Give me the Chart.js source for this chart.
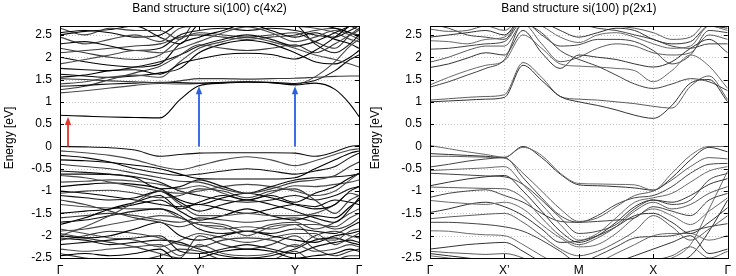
<!DOCTYPE html>
<html lang="en">
<head>
    <meta charset="UTF-8">
    <title>Band structure si(100)</title>
    <style>
        body {
            margin: 0;
            background: #fff;
        }
        #wrap {
            position: relative;
            width: 736px;
            height: 276px;
        }
        canvas {
            position: absolute;
            top: 0;
        }
        #left { left: 0; }
        #right { left: 368px; }
    </style>
</head>
<body>

<div id="wrap">
    <canvas id="left" width="368" height="276"></canvas>
    <canvas id="right" width="368" height="276"></canvas>
</div>

<script src="https://cdn.jsdelivr.net/npm/chart.js"></script>

<script>
    // energy axis (eV)
    const energyTicks = [-2.5, -2, -1.5, -1, -0.5, 0, 0.5, 1, 1.5, 2, 2.5];

    // c(4x2): k path Γ - X - Y' - Y - Γ
    const kC4x2 = [0, 0.25, 0.5, 0.75, 1.0, 1.2, 1.39, 1.63, 1.87, 2.11, 2.35, 2.55, 2.75, 2.9, 2.99];
    const kC4x2Ticks = [0, 1.0, 1.39, 2.35, 2.99];
    const kC4x2Labels = ['Γ', 'X', 'Y’', 'Y', 'Γ'];

    const c4x2Conduction = [
        [0.70, 0.68, 0.66, 0.65, 0.64, 1.05, 1.36, 1.42, 1.44, 1.43, 1.38, 1.42, 1.28, 0.95, 0.67],
        [1.52, 1.50, 1.47, 1.45, 1.43, 1.47, 1.52, 1.52, 1.51, 1.52, 1.53, 1.55, 1.57, 1.58, 1.58],
        [1.35, 1.37, 1.40, 1.42, 1.44, 1.43, 1.42, 1.44, 1.45, 1.44, 1.41, 1.48, 1.70, 1.95, 2.05],
        [1.20, 1.25, 1.31, 1.37, 1.41, 1.40, 1.41, 1.43, 1.45, 1.43, 1.39, 1.56, 1.90, 2.25, 2.40],
        [1.55, 1.60, 1.70, 1.72, 1.62, 1.85, 1.96, 2.06, 2.09, 2.06, 1.96, 2.15, 2.45, 2.70, 2.80],
        [1.27, 1.35, 1.50, 1.65, 1.80, 2.05, 2.28, 2.20, 2.15, 2.20, 2.28, 2.10, 2.30, 2.50, 2.60],
        [1.75, 1.72, 1.70, 1.78, 1.90, 2.05, 2.25, 2.40, 2.50, 2.40, 2.25, 2.35, 2.55, 2.70, 2.80],
        [1.85, 1.95, 2.05, 2.15, 2.10, 2.20, 2.35, 2.55, 2.68, 2.55, 2.35, 2.45, 2.60, 2.50, 2.40],
        [2.00, 1.90, 1.82, 1.78, 1.85, 2.30, 2.45, 2.60, 2.75, 2.60, 2.45, 2.55, 2.40, 2.30, 2.20],
        [2.20, 2.10, 2.00, 1.95, 2.05, 2.40, 2.55, 2.50, 2.45, 2.50, 2.55, 2.35, 2.20, 2.50, 2.65],
        [2.30, 2.35, 2.25, 2.15, 2.20, 2.50, 2.60, 2.65, 2.60, 2.65, 2.60, 2.50, 2.45, 2.60, 2.70],
        [2.45, 2.30, 2.40, 2.50, 2.35, 2.65, 2.70, 2.80, 2.80, 2.80, 2.70, 2.65, 2.55, 2.40, 2.35],
        [2.55, 2.60, 2.55, 2.45, 2.50, 2.75, 2.80, 2.90, 2.90, 2.90, 2.80, 2.75, 2.65, 2.55, 2.50],
        [2.65, 2.50, 2.65, 2.60, 2.60, 2.40, 2.90, 2.90, 2.90, 2.90, 2.90, 2.80, 2.75, 2.70, 2.60],
        [2.50, 2.58, 2.62, 2.70, 2.45, 2.30, 2.75, 2.85, 2.90, 2.85, 2.75, 2.30, 2.10, 2.30, 2.50],
        [1.40, 1.45, 1.55, 1.60, 1.55, 1.90, 2.20, 2.35, 2.45, 2.35, 2.20, 2.05, 1.95, 1.85, 1.78],
        [1.62, 1.58, 1.55, 1.58, 1.65, 1.75, 2.10, 2.30, 2.38, 2.30, 2.10, 1.90, 1.85, 2.00, 2.15],
        [2.10, 2.15, 2.20, 2.25, 2.30, 2.45, 2.50, 2.45, 2.40, 2.45, 2.50, 2.60, 2.65, 2.55, 2.45]
    ];

    const c4x2Valence = [
        [0.00, -0.01, -0.03, -0.08, -0.22, -0.18, -0.15, -0.14, -0.14, -0.14, -0.15, -0.22, -0.12, 0.00, 0.02],
        [-0.10, -0.14, -0.20, -0.30, -0.45, -0.52, -0.43, -0.30, -0.23, -0.30, -0.43, -0.32, -0.18, -0.08, -0.05],
        [-0.30, -0.32, -0.36, -0.42, -0.50, -0.62, -0.72, -0.73, -0.73, -0.73, -0.70, -0.50, -0.30, -0.15, -0.10],
        [-0.40, -0.45, -0.50, -0.60, -0.70, -0.78, -0.80, -0.95, -1.05, -0.95, -0.80, -0.75, -0.65, -0.45, -0.35],
        [-0.62, -0.62, -0.63, -0.70, -0.95, -0.90, -0.75, -0.90, -1.05, -0.90, -0.75, -0.70, -0.68, -0.65, -0.62],
        [-0.65, -0.70, -0.80, -0.90, -1.00, -1.05, -1.00, -0.90, -0.85, -0.90, -1.00, -1.10, -1.00, -0.75, -0.60],
        [-0.90, -0.85, -0.82, -0.85, -0.95, -1.20, -1.30, -1.15, -1.05, -1.15, -1.30, -1.40, -1.30, -1.00, -0.90],
        [-1.05, -1.00, -0.98, -1.05, -1.15, -1.10, -0.95, -1.00, -1.15, -1.00, -0.95, -1.20, -1.50, -1.20, -1.10],
        [-1.10, -1.15, -1.20, -1.15, -1.00, -1.25, -1.45, -1.30, -1.20, -1.30, -1.45, -1.60, -1.70, -1.40, -1.15],
        [-2.00, -1.80, -1.55, -1.25, -1.00, -1.30, -1.55, -1.55, -1.50, -1.55, -1.55, -1.50, -1.30, -1.05, -1.10],
        [-1.50, -1.45, -1.40, -1.30, -1.20, -1.45, -1.65, -1.55, -1.40, -1.55, -1.65, -1.55, -1.60, -1.35, -1.20],
        [-1.20, -1.30, -1.45, -1.60, -1.70, -1.80, -1.70, -1.75, -1.90, -1.75, -1.70, -1.85, -1.70, -1.50, -1.40],
        [-1.70, -1.65, -1.55, -1.45, -1.40, -1.55, -1.85, -1.95, -1.90, -1.95, -1.85, -1.90, -1.95, -1.80, -1.70],
        [-1.90, -1.85, -1.75, -1.65, -1.55, -1.60, -1.75, -1.80, -2.00, -1.80, -1.75, -2.05, -2.10, -1.90, -1.85],
        [-2.00, -2.05, -2.00, -1.85, -1.70, -2.00, -2.10, -2.00, -1.90, -2.00, -2.10, -2.15, -2.00, -1.95, -1.90],
        [-2.10, -2.00, -1.90, -1.95, -2.05, -2.20, -2.25, -2.10, -2.05, -2.10, -2.25, -2.00, -1.90, -2.00, -2.05],
        [-2.20, -2.15, -2.10, -2.05, -2.00, -2.35, -2.40, -2.30, -2.20, -2.30, -2.40, -2.25, -2.15, -2.10, -2.15],
        [-2.30, -2.35, -2.30, -2.25, -2.20, -2.45, -2.20, -2.40, -2.45, -2.40, -2.20, -2.35, -2.30, -2.20, -2.25],
        [-2.45, -2.40, -2.45, -2.40, -2.30, -2.60, -2.50, -2.35, -2.30, -2.35, -2.50, -2.45, -2.40, -2.30, -2.35],
        [-2.40, -2.50, -2.55, -2.55, -2.45, -2.30, -2.35, -2.55, -2.60, -2.55, -2.35, -2.60, -2.55, -2.45, -2.45],
        [-0.55, -0.58, -0.62, -0.68, -0.80, -1.00, -1.10, -1.20, -1.25, -1.20, -1.10, -1.20, -1.10, -0.95, -0.90],
        [-1.30, -1.35, -1.38, -1.40, -1.40, -1.60, -1.75, -1.85, -1.80, -1.85, -1.75, -1.75, -1.80, -1.60, -1.50],
        [-1.75, -1.60, -1.40, -1.25, -1.10, -1.40, -1.25, -1.10, -1.20, -1.10, -1.25, -1.05, -0.90, -0.70, -0.60],
        [-1.95, -2.05, -2.15, -2.25, -2.40, -2.50, -2.00, -2.20, -2.30, -2.20, -2.00, -2.30, -2.45, -2.35, -2.30],
        [-0.20, -0.25, -0.35, -0.50, -0.60, -0.65, -0.62, -0.55, -0.50, -0.55, -0.62, -0.55, -0.45, -0.25, -0.15],
        [-0.80, -0.78, -0.75, -0.78, -0.85, -0.95, -0.88, -1.05, -1.20, -1.05, -0.88, -0.90, -0.85, -0.80, -0.75],
        [-1.00, -1.05, -1.12, -1.20, -1.30, -1.35, -1.30, -1.40, -1.50, -1.40, -1.30, -1.35, -1.20, -1.25, -1.30],
        [-1.60, -1.55, -1.50, -1.55, -1.65, -1.70, -1.60, -1.65, -1.70, -1.65, -1.60, -1.70, -1.85, -1.75, -1.60],
        [-2.05, -2.10, -2.20, -2.15, -2.10, -2.15, -2.30, -2.45, -2.50, -2.45, -2.30, -2.10, -2.05, -2.15, -2.20],
        [-1.85, -1.95, -2.05, -2.10, -2.25, -2.10, -1.95, -2.05, -2.15, -2.05, -1.95, -1.95, -2.20, -2.05, -1.95]
    ];

    // transitions marked in the c(4x2) panel: k position, from energy, to energy
    const transK = [0.08, 1.39, 2.35];
    const transFrom = [0, 0, 0];
    const transTo = [0.66, 1.35, 1.35];

    // p(2x1): k path Γ - X' - M - X - Γ
    const kP2x1 = [0, 0.25, 0.5, 0.75, 1.0, 1.25, 1.5, 1.75, 2.0, 2.25, 2.5, 2.75, 3.0, 3.25, 3.5, 3.75, 4.0];
    const kP2x1Ticks = [0, 1, 2, 3, 4];
    const kP2x1Labels = ['Γ', 'X’', 'M', 'X', 'Γ'];

    const p2x1Conduction = [
        [1.00, 1.02, 1.04, 1.06, 1.10, 1.82, 1.48, 1.12, 1.00, 0.92, 0.82, 0.70, 0.63, 0.92, 1.42, 1.50, 1.00],
        [1.04, 1.07, 1.10, 1.12, 1.16, 1.88, 1.55, 1.12, 1.06, 1.04, 1.00, 0.96, 0.90, 0.86, 1.35, 1.58, 1.05],
        [1.33, 1.45, 1.60, 1.75, 1.95, 2.75, 2.55, 2.15, 1.95, 1.80, 1.60, 1.40, 1.30, 1.40, 1.52, 1.45, 1.25],
        [1.38, 1.55, 1.70, 1.82, 1.92, 2.50, 2.20, 1.85, 1.80, 1.78, 1.75, 1.70, 1.45, 1.70, 2.05, 1.80, 1.30],
        [1.77, 1.85, 1.98, 2.10, 2.05, 2.60, 2.10, 1.75, 2.05, 2.00, 1.95, 1.85, 1.78, 1.90, 2.20, 2.40, 2.10],
        [1.89, 2.00, 2.15, 2.25, 2.25, 2.75, 2.30, 1.90, 2.00, 2.20, 2.30, 2.25, 2.10, 2.05, 2.10, 2.50, 2.40],
        [2.18, 2.20, 2.25, 2.30, 2.35, 2.80, 2.50, 2.25, 2.28, 2.40, 2.40, 2.35, 2.15, 1.85, 2.05, 2.60, 2.55],
        [2.37, 2.35, 2.30, 2.40, 2.45, 2.85, 2.70, 2.45, 2.33, 2.50, 2.55, 2.45, 2.30, 2.20, 2.25, 2.70, 2.60],
        [2.45, 2.50, 2.55, 2.60, 2.50, 2.90, 2.80, 2.60, 2.45, 2.55, 2.65, 2.60, 2.40, 2.30, 2.35, 2.70, 2.65],
        [2.63, 2.58, 2.60, 2.70, 2.60, 2.90, 2.90, 2.75, 2.70, 2.75, 2.70, 2.65, 2.55, 2.40, 2.45, 2.80, 2.70],
        [2.75, 2.65, 2.50, 2.45, 2.40, 2.90, 2.90, 2.80, 2.75, 2.65, 2.60, 2.50, 2.40, 2.25, 2.20, 2.30, 2.30]
    ];

    const p2x1Valence = [
        [0.02, -0.05, -0.12, -0.18, -0.24, -0.02, -0.20, -0.60, -0.83, -0.84, -0.85, -0.86, -0.98, -0.60, -0.20, 0.00, 0.00],
        [-0.16, -0.18, -0.20, -0.22, -0.25, 0.00, -0.25, -0.62, -0.86, -0.88, -0.90, -0.93, -0.98, -0.70, -0.30, -0.02, -0.12],
        [-0.22, -0.22, -0.23, -0.24, -0.26, -0.60, -1.00, -1.40, -1.68, -1.60, -1.35, -1.10, -1.00, -0.75, -0.45, -0.25, -0.28],
        [-0.46, -0.40, -0.33, -0.28, -0.25, -0.70, -1.15, -1.55, -1.70, -1.55, -1.30, -1.15, -1.10, -0.90, -0.60, -0.40, -0.38],
        [-0.54, -0.52, -0.50, -0.48, -0.45, -0.85, -1.30, -1.75, -2.10, -1.95, -1.60, -1.25, -1.15, -1.05, -0.80, -0.55, -0.45],
        [-0.88, -0.80, -0.73, -0.68, -0.65, -1.00, -1.45, -1.90, -2.15, -2.00, -1.70, -1.35, -1.20, -1.25, -1.10, -0.85, -0.72],
        [-0.91, -0.92, -0.93, -0.94, -0.95, -1.15, -1.60, -2.00, -2.20, -2.05, -1.80, -1.45, -1.25, -1.40, -1.30, -1.05, -0.90],
        [-1.14, -1.05, -1.00, -0.97, -1.10, -1.25, -1.50, -1.68, -1.70, -1.68, -1.65, -1.60, -1.35, -1.45, -1.55, -1.20, -1.05],
        [-1.21, -1.25, -1.28, -1.30, -1.25, -1.40, -1.75, -2.05, -2.25, -2.20, -1.95, -1.60, -1.40, -1.55, -1.75, -1.45, -1.15],
        [-1.48, -1.40, -1.30, -1.25, -1.35, -1.55, -1.85, -2.15, -2.12, -2.00, -1.80, -1.55, -1.50, -1.70, -1.95, -1.70, -1.37],
        [-1.62, -1.58, -1.55, -1.52, -1.50, -1.70, -2.00, -2.30, -2.45, -2.35, -2.15, -1.90, -1.55, -1.80, -2.10, -1.85, -1.55],
        [-1.70, -1.70, -1.72, -1.75, -1.80, -1.90, -2.10, -2.35, -2.60, -2.45, -2.25, -2.05, -2.02, -2.00, -1.90, -1.80, -1.73],
        [-1.89, -1.90, -1.95, -1.98, -2.00, -2.20, -2.45, -2.65, -2.70, -2.60, -2.40, -2.20, -2.00, -1.95, -1.95, -2.10, -2.00],
        [-2.30, -2.25, -2.20, -2.17, -2.15, -2.35, -2.60, -2.80, -2.80, -2.75, -2.60, -2.45, -2.30, -2.15, -2.00, -2.40, -2.30],
        [-2.35, -2.38, -2.40, -2.42, -2.40, -2.50, -2.70, -2.80, -2.90, -2.80, -2.70, -2.60, -2.55, -2.45, -2.25, -2.50, -2.35],
        [-0.60, -0.62, -0.64, -0.66, -0.68, -0.85, -1.20, -1.60, -1.95, -1.90, -1.75, -1.40, -1.20, -1.30, -1.20, -0.75, -0.60],
        [-2.45, -2.50, -2.55, -2.60, -2.65, -2.70, -2.80, -2.90, -2.90, -2.90, -2.80, -2.70, -2.60, -2.50, -2.20, -1.40, -0.55],
        [-2.40, -2.45, -2.50, -2.55, -2.60, -2.80, -2.90, -2.90, -2.90, -2.90, -2.90, -2.80, -2.70, -2.60, -2.45, -1.90, -1.20]
    ];

    const FONT = '"Liberation Sans", Arial, sans-serif';

    // frame, dotted grid, inward tics, titles and the transition arrows
    const gnuplotLook = {
        id: 'gnuplotLook',
        beforeDatasetsDraw(chart) {
            const { ctx, chartArea: a, scales: { x, y } } = chart;
            ctx.save();
            ctx.strokeStyle = '#c8c8c8';
            ctx.lineWidth = 1;
            ctx.setLineDash([1, 2]);
            ctx.beginPath();
            energyTicks.forEach(v => {
                const py = Math.round(y.getPixelForValue(v)) + 0.5;
                ctx.moveTo(a.left, py);
                ctx.lineTo(a.right, py);
            });
            x.ticks.forEach(t => {
                const px = Math.round(x.getPixelForValue(t.value)) + 0.5;
                ctx.moveTo(px, a.top);
                ctx.lineTo(px, a.bottom);
            });
            ctx.stroke();
            ctx.restore();
        },
        afterDatasetsDraw(chart, args, opts) {
            const { ctx, scales: { x, y } } = chart;
            if (!opts.arrows) return;
            ctx.save();
            transK.forEach((k, i) => {
                const px = x.getPixelForValue(k);
                const y0 = y.getPixelForValue(transFrom[i]);
                const y1 = y.getPixelForValue(transTo[i]);
                const col = i === 0 ? '#e5332a' : '#2a5fe0';
                ctx.strokeStyle = col;
                ctx.fillStyle = col;
                ctx.lineWidth = 1.8;
                ctx.beginPath();
                ctx.moveTo(px, y0);
                ctx.lineTo(px, y1 + 7);
                ctx.stroke();
                ctx.beginPath();
                ctx.moveTo(px, y1);
                ctx.lineTo(px - 3.2, y1 + 8);
                ctx.lineTo(px + 3.2, y1 + 8);
                ctx.closePath();
                ctx.fill();
            });
            ctx.restore();
        },
        afterDraw(chart, args, opts) {
            const { ctx, chartArea: a, scales: { x, y } } = chart;
            ctx.save();
            ctx.strokeStyle = '#000';
            ctx.lineWidth = 1;
            ctx.beginPath();
            energyTicks.forEach(v => {
                const py = Math.round(y.getPixelForValue(v)) + 0.5;
                ctx.moveTo(a.left, py);
                ctx.lineTo(a.left + 4, py);
                ctx.moveTo(a.right, py);
                ctx.lineTo(a.right - 4, py);
            });
            x.ticks.forEach(t => {
                const px = Math.round(x.getPixelForValue(t.value)) + 0.5;
                ctx.moveTo(px, a.bottom);
                ctx.lineTo(px, a.bottom - 4);
                ctx.moveTo(px, a.top);
                ctx.lineTo(px, a.top + 4);
            });
            ctx.stroke();
            ctx.strokeRect(Math.round(a.left) + 0.5, Math.round(a.top) + 0.5,
                Math.round(a.right - a.left), Math.round(a.bottom - a.top));

            ctx.fillStyle = '#000';
            ctx.font = '12px ' + FONT;
            ctx.textAlign = 'center';
            ctx.textBaseline = 'middle';
            ctx.fillText(opts.title, (a.left + a.right) / 2, 9);

            ctx.translate(opts.yTitleX, (a.top + a.bottom) / 2 - 4);
            ctx.rotate(-Math.PI / 2);
            ctx.fillText('Energy [eV]', 0, 0);
            ctx.restore();
        }
    };

    function bandSets(k, bands, colors, width) {
        return bands.map((b, i) => ({
            data: k.map((kv, j) => ({ x: kv, y: b[j] })),
            borderColor: colors[i % colors.length],
            borderWidth: width,
            pointRadius: 0,
            fill: false,
            cubicInterpolationMode: 'monotone'
        }));
    }

    function makeChart(id, k, bands, kTicks, kLabels, opts) {
        return new Chart(document.getElementById(id), {
            type: 'line',
            data: { datasets: bandSets(k, bands, opts.colors, opts.lineWidth) },
            options: {
                responsive: false,
                animation: false,
                devicePixelRatio: 1,
                layout: { padding: { left: 0, right: opts.padRight, top: 26, bottom: 0 } },
                plugins: {
                    legend: { display: false },
                    tooltip: { enabled: false },
                    gnuplotLook: { title: opts.title, arrows: opts.arrows, yTitleX: opts.yTitleX }
                },
                scales: {
                    x: {
                        type: 'linear',
                        min: k[0],
                        max: k[k.length - 1],
                        afterBuildTicks: s => { s.ticks = kTicks.map(v => ({ value: v })); },
                        afterFit: s => { s.height = 18; },
                        grid: { display: false, drawTicks: false },
                        border: { display: false },
                        ticks: {
                            autoSkip: false,
                            maxRotation: 0,
                            padding: 5,
                            color: '#000',
                            font: { family: FONT, size: 12 },
                            callback: (v, i) => kLabels[i]
                        }
                    },
                    y: {
                        min: -2.5,
                        max: 2.7,
                        afterBuildTicks: s => { s.ticks = energyTicks.map(v => ({ value: v })); },
                        afterFit: s => { s.width = opts.yWidth; },
                        grid: { display: false, drawTicks: false },
                        border: { display: false },
                        ticks: {
                            padding: 8,
                            color: '#000',
                            font: { family: FONT, size: 12 },
                            callback: v => String(v)
                        }
                    }
                }
            },
            plugins: [gnuplotLook]
        });
    }

    makeChart('left', kC4x2, c4x2Conduction.concat(c4x2Valence), kC4x2Ticks, kC4x2Labels, {
        title: 'Band structure si(100) c(4x2)',
        arrows: true,
        colors: ['#000', '#3a3a3a', '#111', '#4a4a4a'],
        lineWidth: 1.1,
        padRight: 9,
        yWidth: 60,
        yTitleX: 10
    });

    makeChart('right', kP2x1, p2x1Conduction.concat(p2x1Valence), kP2x1Ticks, kP2x1Labels, {
        title: 'Band structure si(100) p(2x1)',
        arrows: false,
        colors: ['#333', '#5c5c5c', '#444', '#6a6a6a'],
        lineWidth: 1,
        padRight: 6,
        yWidth: 62,
        yTitleX: 8
    });
</script>

</body>
</html>
